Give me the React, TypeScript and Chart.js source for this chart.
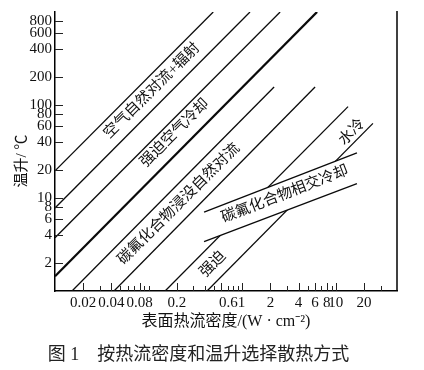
import React, { useEffect, useRef } from "react";
import { Chart, registerables } from "chart.js";

Chart.register(...registerables);

// Lines (heat flux W/cm², temperature rise °C)
const airNaturalLine = [{ x: 0.01, y: 19.6 }, { x: 0.49, y: 1000 }];
const line2 = [{ x: 0.01, y: 7.8 }, { x: 1.21, y: 1000 }];
const line3 = [{ x: 0.01, y: 3.74 }, { x: 2.54, y: 1000 }];
const line4Thick = [{ x: 0.01, y: 1.44 }, { x: 6.3, y: 1000 }];
const line5 = [{ x: 0.0152, y: 1 }, { x: 2.19, y: 156 }];
const line6 = [{ x: 0.0427, y: 1 }, { x: 6.0, y: 156 }];
const line7 = [{ x: 0.15, y: 1 }, { x: 13.5, y: 96 }];
const line8 = [{ x: 0.421, y: 1 }, { x: 24.9, y: 63.4 }];
const bandUpper = [{ x: 0.391, y: 7.05 }, { x: 16.8, y: 30.5 }];
const bandLower = [{ x: 0.391, y: 3.39 }, { x: 16.8, y: 14.3 }];

// Axis ticks
const yTickValues = [2, 4, 6, 8, 10, 20, 40, 60, 80, 100, 200, 400, 600, 800];
const yTickLabels = ["2", "4", "6", "8", "10", "20", "40", "60", "80", "100", "200", "400", "600", "800"];
const xTickValues = [0.02, 0.04, 0.08, 0.2, 0.78, 2, 4, 6, 8, 10, 20];
const xTickLabels = ["0.02", "0.04", "0.08", "0.2", "0.61", "2", "4", "6", "8", "10", "20"];
const xMinorTicks = [
  0.02, 0.03, 0.04, 0.05, 0.06, 0.07, 0.08, 0.09,
  0.1, 0.2, 0.3, 0.4, 0.5, 0.6, 0.7, 0.8, 0.9,
  1, 2, 3, 4, 5, 6, 7, 8, 9, 10, 20, 30,
];
const xLongTicks = [0.02, 0.04, 0.08, 0.2, 0.6, 1, 2, 4, 6, 8, 10, 20];

// Region labels
const regionLabels = ["空气自然对流+辐射", "强迫空气冷却", "碳氟化合物浸没自然对流", "碳氟化合物相交冷却", "水冷", "强迫"];
const regionLabelX = [0.109, 0.191, 0.211, 2.86, 14.9, 0.488];
const regionLabelY = [142, 49.7, 8.57, 10.9, 50.9, 1.93];
const regionLabelSlope = [1, 1, 1, 0.39, 1, 1];

const yTitle = "温升/ ℃";
const xTitle = "表面热流密度/(W · cm⁻²)";
const caption = "图 1\u3000按热流密度和温升选择散热方式";

const FONT = "'Liberation Serif', 'Noto Sans CJK SC', serif";
const INK = "#111";

const annotatePlugin = {
  id: "annotate",
  afterDatasetsDraw(chart: any) {
    const { ctx, chartArea } = chart;
    const xs = chart.scales.x;
    const ys = chart.scales.y;
    ctx.save();
    ctx.strokeStyle = "#000";
    ctx.lineWidth = 1.5;
    ctx.beginPath();
    ctx.moveTo(chartArea.right, chartArea.top - 1);
    ctx.lineTo(chartArea.right, chartArea.bottom);
    ctx.stroke();

    ctx.lineWidth = 1;
    ctx.strokeStyle = "#222";
    yTickValues.forEach((v) => {
      const py = Math.round(ys.getPixelForValue(v)) + 0.5;
      ctx.beginPath();
      ctx.moveTo(chartArea.left, py);
      ctx.lineTo(chartArea.left + 8, py);
      ctx.stroke();
    });
    xMinorTicks.forEach((v) => {
      const px = Math.round(xs.getPixelForValue(v)) + 0.5;
      const len = xLongTicks.includes(v) ? 8 : 5;
      ctx.beginPath();
      ctx.moveTo(px, chartArea.bottom);
      ctx.lineTo(px, chartArea.bottom - len);
      ctx.stroke();
    });

    ctx.fillStyle = INK;
    ctx.font = `15px ${FONT}`;
    ctx.textAlign = "center";
    ctx.textBaseline = "middle";
    regionLabels.forEach((t, i) => {
      const x0 = xs.getPixelForValue(regionLabelX[i]);
      const y0 = ys.getPixelForValue(regionLabelY[i]);
      const x1 = xs.getPixelForValue(regionLabelX[i] * 10);
      const y1 = ys.getPixelForValue(regionLabelY[i] * Math.pow(10, regionLabelSlope[i]));
      const ang = Math.atan2(y1 - y0, x1 - x0);
      ctx.save();
      ctx.translate(x0, y0);
      ctx.rotate(ang);
      ctx.fillText(t, 0, 0);
      ctx.restore();
    });

    ctx.font = `15px ${FONT}`;
    ctx.save();
    ctx.translate(22, 161);
    ctx.rotate(-Math.PI / 2);
    ctx.fillText(yTitle, 0, 0);
    ctx.restore();
    ctx.restore();
  },
};

const lineDs = (data: any[], width = 1.3) => ({
  data,
  borderColor: "#0a0a0a",
  borderWidth: width,
  pointRadius: 0,
  fill: false,
  tension: 0,
});

export default function App() {
  const ref = useRef<HTMLCanvasElement | null>(null);
  useEffect(() => {
    document.body.style.margin = "0";
    const chart = new Chart(ref.current as HTMLCanvasElement, {
      type: "line",
      data: {
        datasets: [
          lineDs(bandUpper),
          lineDs(bandLower),
          { ...lineDs(bandUpper, 0), fill: "+1", backgroundColor: "#ffffff" },
          lineDs(bandLower, 0),
          lineDs(airNaturalLine),
          lineDs(line2),
          lineDs(line3),
          lineDs(line4Thick, 2.3),
          lineDs(line5),
          lineDs(line6),
          lineDs(line7),
          lineDs(line8),
        ] as any,
      },
      options: {
        animation: false,
        responsive: false,
        devicePixelRatio: 1,
        layout: { padding: { top: 8, right: 27, left: 0, bottom: 0 } },
        plugins: {
          legend: { display: false },
          tooltip: { enabled: false },
          title: {
            display: true,
            position: "bottom",
            text: caption,
            color: "#222",
            font: { family: FONT, size: 18, weight: "normal" },
            padding: { top: 0, bottom: 4 },
          },
        },
        scales: {
          x: {
            type: "logarithmic",
            min: 0.01,
            max: 45,
            afterFit: (s: any) => { s.height = 53.4; },
            afterBuildTicks: (s: any) => { s.ticks = xTickValues.map((v) => ({ value: v })); },
            ticks: {
              autoSkip: false,
              maxRotation: 0,
              padding: 3,
              color: INK,
              font: { family: FONT, size: 15 },
              callback: (_v: any, i: number) => xTickLabels[i],
            },
            grid: { drawOnChartArea: false, drawTicks: false },
            border: { display: true, color: "#000", width: 1.5 },
            title: {
              display: true,
              text: xTitle,
              color: INK,
              font: { family: FONT, size: 16 },
              padding: { top: 0, bottom: 12.8 },
            },
          },
          y: {
            type: "logarithmic",
            min: 1,
            max: 1000,
            afterFit: (s: any) => { s.width = 55; },
            afterBuildTicks: (s: any) => { s.ticks = yTickValues.map((v) => ({ value: v })); },
            ticks: {
              autoSkip: false,
              padding: 3,
              color: INK,
              font: { family: FONT, size: 15 },
              callback: (_v: any, i: number) => yTickLabels[i],
            },
            grid: { drawOnChartArea: false, drawTicks: false },
            border: { display: true, color: "#000", width: 1.5 },
          },
        },
      } as any,
      plugins: [annotatePlugin],
    });
    return () => chart.destroy();
  }, []);
  return (
    <div style={{ width: 424, height: 370, background: "#fff" }}>
      <canvas ref={ref} width={424} height={370} />
    </div>
  );
}
